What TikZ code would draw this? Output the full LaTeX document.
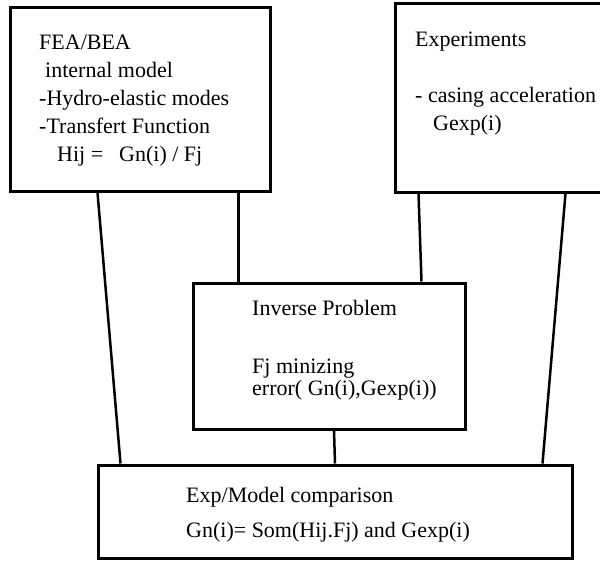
\documentclass[tikz,border=0pt]{standalone}
\usepackage{fontspec}
\setmainfont{Liberation Serif}
\usepackage{tikz}
\usetikzlibrary{positioning, calc}

\begin{document}
\begin{tikzpicture}[
    x=1pt, y=-1pt,
    block/.style={draw=black, line width=3pt, fill=white, inner sep=0pt},
    blocktext/.style={anchor=north west, inner sep=0pt, align=left,
                      font=\fontsize{22}{28}\selectfont},
    link/.style={draw=black, line width=2.5pt}
]
    \clip (0,0) rectangle (600,560);

    % FEA/BEA model
    \node[block, minimum width=260pt, minimum height=184pt] (fea) at (140,99) {};
    \node[blocktext] (featext) at (39,35) {FEA/BEA\\\hspace*{6pt}internal model\\-Hydro-elastic modes\\-Transfert Function\\\hspace*{18pt}Hij =\hspace{16pt}Gn(i) / Fj};

    % Experiments
    \node[block, minimum width=217pt, minimum height=189pt] (exper) at (503.5,97.5) {};
    \node[blocktext] (expertext) at (415,32) {Experiments\\[28pt]- casing acceleration\\\hspace*{18pt}Gexp(i)};

    % Inverse problem
    \node[block, minimum width=272pt, minimum height=146pt] (inv) at (329,356) {};
    \node[blocktext, font=\fontsize{22}{21.5}\selectfont] (invtext) at (252,300) {Inverse Problem\\[37pt]Fj minizing\\error( Gn(i),Gexp(i))};

    % Comparison
    \node[block, minimum width=474pt, minimum height=93pt] (comp) at (335,511.5) {};
    \node[blocktext] (comptext) at (186,487) {Exp/Model comparison\\[7pt]Gn(i)= Som(Hij.Fj) and Gexp(i)};

    % Links
    \draw[link] ([xshift=89pt]fea.south west) -- ([xshift=24pt]comp.north west);
    \draw[link] ([xshift=230pt]fea.south west) -- ([xshift=47pt]inv.north west);
    \draw[link] ([xshift=25pt]exper.south west) -- ([xshift=-45pt]inv.north east);
    \draw[link] ([xshift=172pt]exper.south west) -- ([xshift=-31pt]comp.north east);
    \draw[link] ([xshift=5pt]inv.south) -- (comp.north);
\end{tikzpicture}
\end{document}
